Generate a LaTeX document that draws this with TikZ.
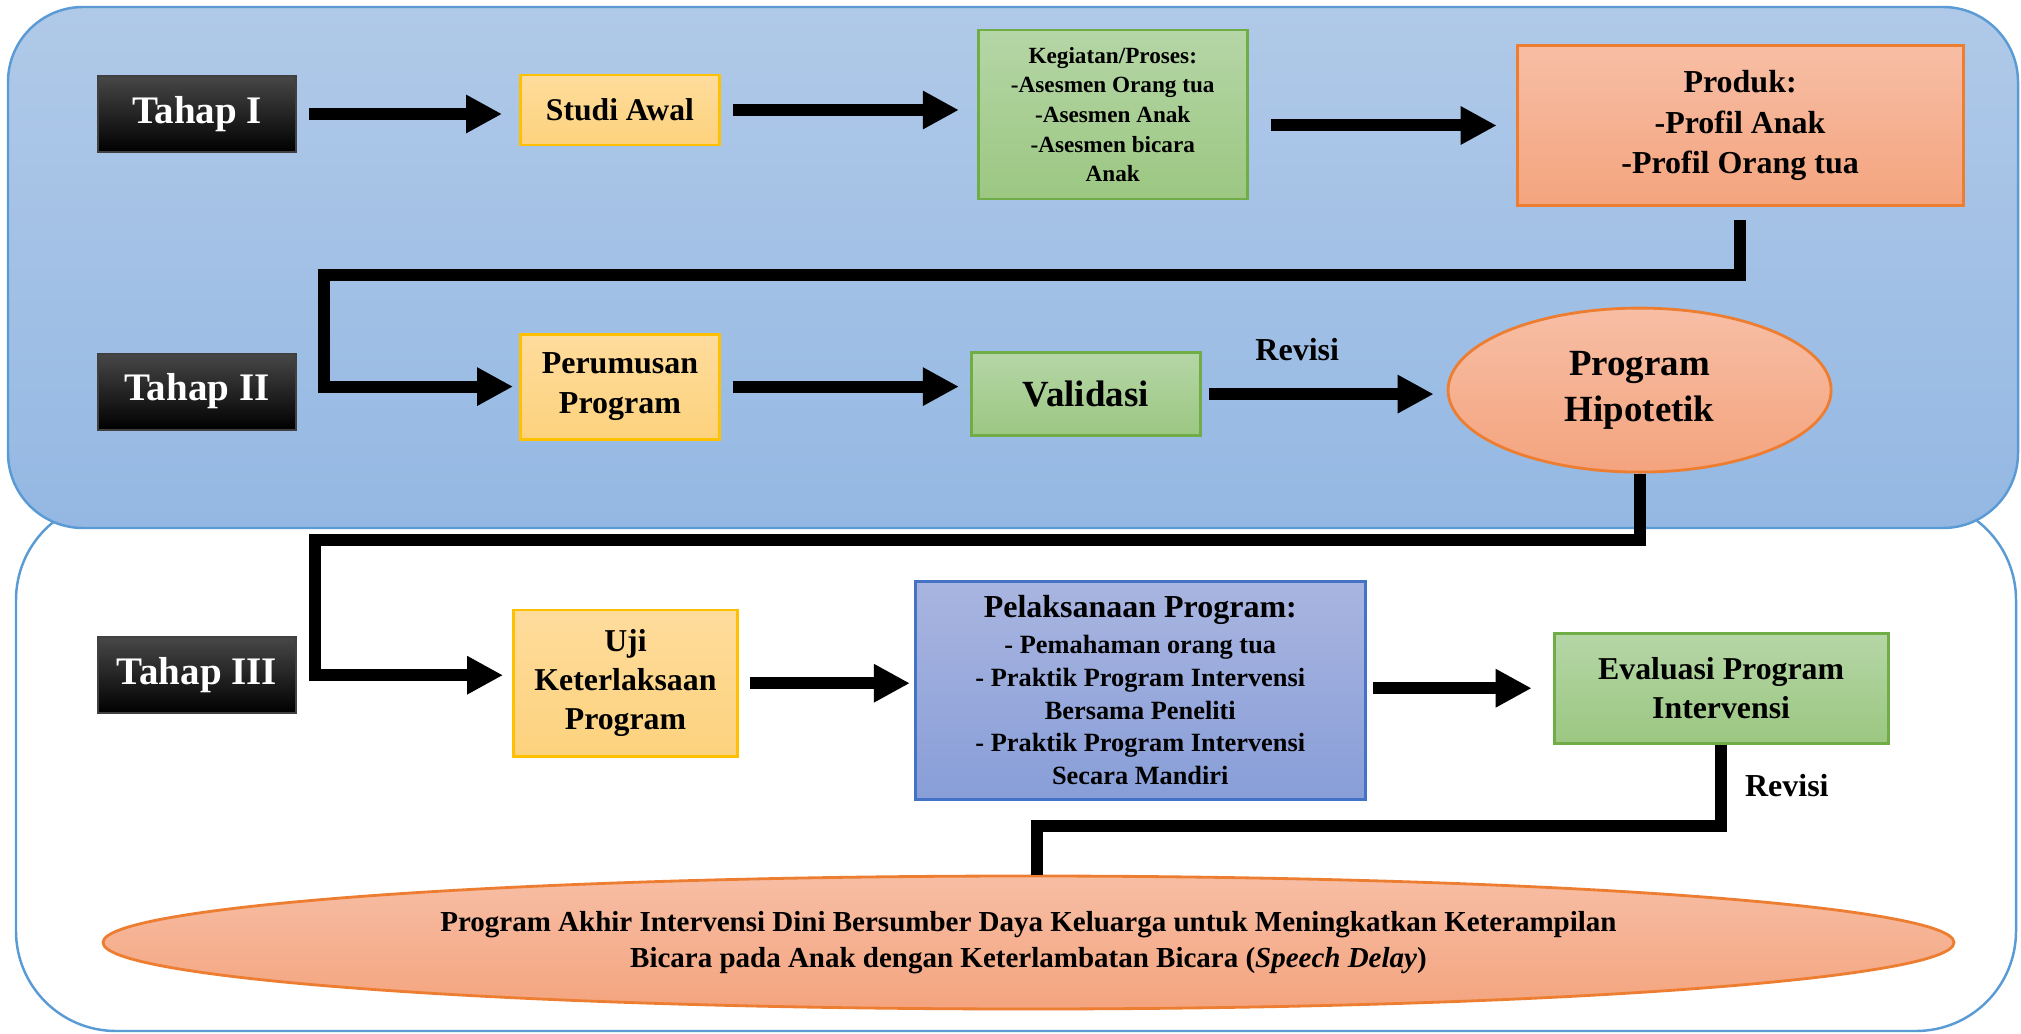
\documentclass[tikz,border=0pt]{standalone}
\usepackage{fontspec}
\setmainfont{Liberation Serif}
\usetikzlibrary{arrows.meta,positioning,shapes.geometric}

\definecolor{bgtop}{HTML}{B0C9E8}
\definecolor{bgbot}{HTML}{94B8E3}
\definecolor{bgline}{HTML}{5B9BD5}
\definecolor{yltop}{HTML}{FEDC9C}
\definecolor{ylbot}{HTML}{FDD27D}
\definecolor{ylline}{HTML}{FFC000}
\definecolor{grtop}{HTML}{B5D6A6}
\definecolor{grbot}{HTML}{9CC782}
\definecolor{grline}{HTML}{70AD47}
\definecolor{ortop}{HTML}{F7BEA5}
\definecolor{orbot}{HTML}{F4A47E}
\definecolor{orline}{HTML}{ED7D31}
\definecolor{putop}{HTML}{A9B5E0}
\definecolor{pubot}{HTML}{889ED8}
\definecolor{puline}{HTML}{4472C4}

\begin{document}
\begin{tikzpicture}[line join=miter,
        tahap/.style={draw=black!75,line width=0.6pt,top color=black!72,bottom color=black,
          minimum width=1.98cm,minimum height=0.76cm,text=white,
          font=\fontsize{11.1}{13}\selectfont\bfseries},
        kuning/.style={draw=ylline,line width=0.8pt,top color=yltop,bottom color=ylbot,align=center,inner sep=1pt},
        hijau/.style={draw=grline,line width=0.8pt,top color=grtop,bottom color=grbot,align=center,inner sep=1pt},
        oranye/.style={draw=orline,line width=0.8pt,top color=ortop,bottom color=orbot,align=center,inner sep=1pt},
        ungu/.style={draw=puline,line width=0.8pt,top color=putop,bottom color=pubot,align=center,inner sep=1pt},
        panah/.style={line width=0.12cm,-{Triangle[length=0.36cm,width=0.36cm]},shorten <=0.12cm},
        garis/.style={line width=0.12cm},
        revisi/.style={inner sep=0pt,font=\fontsize{9.1}{11}\selectfont\bfseries}]
        \useasboundingbox (0,0) rectangle (20.21,10.33);
        \draw[bgline,line width=0.7pt,fill=white,rounded corners=1cm] (0.16,0.02) rectangle (20.16,5.33);
        \draw[bgline,line width=0.7pt,top color=bgtop,bottom color=bgbot,rounded corners=0.75cm] (0.08,5.05) rectangle (20.18,10.26);

        \node[tahap] (tahap1) at (1.97,9.19) {Tahap I};
        \node[kuning,minimum width=1.99cm,minimum height=0.70cm,font=\fontsize{9}{11}\selectfont\bfseries]
          (studi) [right=2.22cm of tahap1,yshift=0.04cm] {Studi Awal};
        \node[hijau,minimum width=2.69cm,minimum height=1.69cm,font=\fontsize{6.6}{8.45}\selectfont\bfseries]
          (proses) [right=2.56cm of studi,yshift=-0.045cm] {Kegiatan/Proses:\\-Asesmen Orang tua\\-Asesmen Anak\\-Asesmen bicara\\Anak};
        \node[oranye,minimum width=4.46cm,minimum height=1.60cm,font=\fontsize{9.1}{11.4}\selectfont\bfseries]
          (produk) [right=2.67cm of proses,yshift=-0.11cm] {Produk:\\-Profil Anak\\-Profil Orang tua};

        \node[tahap] (tahap2) [below=1.995cm of tahap1] {Tahap II};
        \node[kuning,minimum width=1.99cm,minimum height=1.05cm,font=\fontsize{9.1}{11.3}\selectfont\bfseries]
          (rumus) [right=2.22cm of tahap2,yshift=0.05cm] {Perumusan\\Program};
        \node[hijau,minimum width=2.29cm,minimum height=0.83cm,font=\fontsize{10.5}{12}\selectfont\bfseries]
          (validasi) [right=2.49cm of rumus,yshift=-0.075cm] {Validasi};
        \node[oranye,ellipse,minimum width=3.83cm,minimum height=1.64cm,font=\fontsize{10.5}{13.2}\selectfont\bfseries]
          (hipotetik) [right=2.45cm of validasi,yshift=0.04cm] {Program\\Hipotetik};

        \node[tahap] (tahap3) [below=2.055cm of tahap2] {Tahap III};
        \node[kuning,minimum width=2.24cm,minimum height=1.465cm,font=\fontsize{9.05}{11.1}\selectfont\bfseries]
          (uji) [right=2.15cm of tahap3,yshift=-0.08cm] {Uji\\Keterlaksaan\\Program};
        \node[ungu,minimum width=4.5cm,minimum height=2.18cm,font=\fontsize{7.5}{9.3}\selectfont\bfseries]
          (laksana) [right=1.75cm of uji,yshift=-0.07cm] {{\fontsize{9.1}{9.3}\selectfont Pelaksanaan Program:}\\[1pt]- Pemahaman orang tua\\- Praktik Program Intervensi\\Bersama Peneliti\\- Praktik Program Intervensi\\Secara Mandiri};
        \node[hijau,minimum width=3.34cm,minimum height=1.10cm,font=\fontsize{9.05}{11.1}\selectfont\bfseries]
          (evaluasi) [right=1.86cm of laksana,yshift=0.02cm] {Evaluasi Program\\Intervensi};
        \node[oranye,ellipse,minimum width=18.51cm,minimum height=1.33cm,font=\fontsize{8.25}{10.2}\selectfont\bfseries]
          (akhir) at (10.285,0.905) {Program Akhir Intervensi Dini Bersumber Daya Keluarga untuk Meningkatkan Keterampilan\\Bicara pada Anak dengan Keterlambatan Bicara (\textit{Speech Delay})};

        \coordinate (belok1) at (3.24,7.58);
        \coordinate (belok2) at (3.15,4.93);
        \coordinate (belok3) at (10.37,2.07);

        \draw[panah,shorten >=0.17cm] (tahap1.east) -- (tahap1.east -| studi.west);
        \draw[panah,shorten >=0.18cm] (studi.east) -- (studi.east -| proses.west);
        \draw[panah,shorten <=0.22cm,shorten >=0.19cm] (proses.east |- produk.west) -- (produk.west);
        \draw[panah,shorten <=0.13cm,shorten >=0.06cm] (produk.south) |- (belok1) |- (rumus.west);

        \draw[panah,shorten >=0.11cm] (rumus.east) -- (rumus.east -| validasi.west);
        \draw[panah,shorten <=0.07cm,shorten >=0.13cm] (validasi.east) -- node[revisi,pos=0.39,above=0.27cm] {Revisi} (validasi.east -| hipotetik.west);
        \draw[panah,shorten <=0cm,shorten >=0.09cm] (hipotetik.south) |- (belok2) |- ([yshift=0.08cm]uji.west);

        \draw[panah,shorten <=0.11cm,shorten >=0.04cm] (uji.east) -- (uji.east -| laksana.west);
        \draw[panah,shorten <=0.06cm,shorten >=0.21cm] (laksana.east |- evaluasi.west) -- (evaluasi.west);
        \draw[garis] (evaluasi.south) -- node[revisi,right=0.18cm] {Revisi} (evaluasi.south |- belok3) -- (belok3) -- (belok3 |- akhir.north);
\end{tikzpicture}
\end{document}
